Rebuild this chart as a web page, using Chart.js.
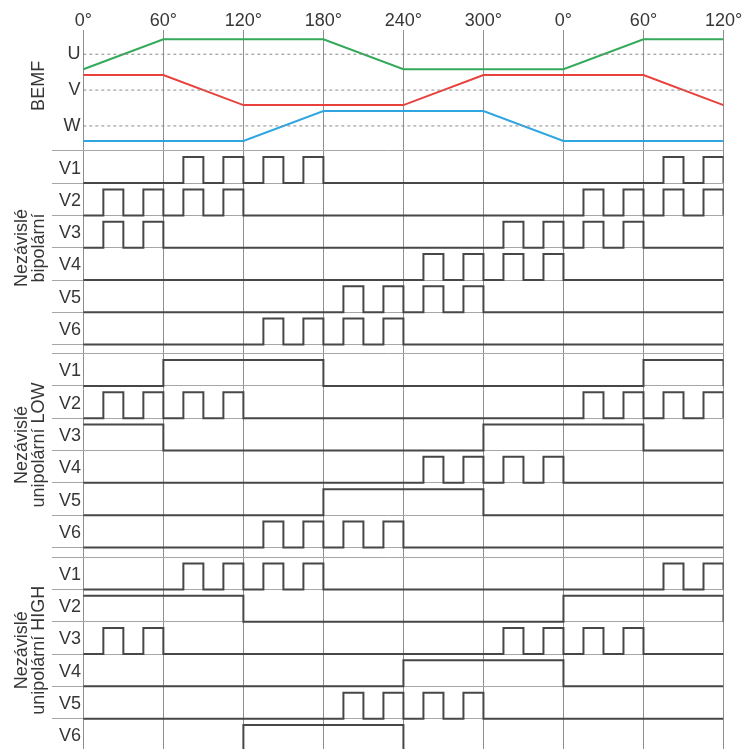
<!DOCTYPE html>
<html>
<head>
<meta charset="utf-8">
<script src="https://cdn.jsdelivr.net/npm/chart.js@4.4.1/dist/chart.umd.min.js"></script>
<style>
  html, body { margin: 0; padding: 0; background: #ffffff; }
  canvas { display: block; }
</style>
</head>
<body>
<canvas id="c" width="747" height="749"></canvas>
<script>
// ---- Electrical angle axis (one full turn plus 120°) ----
const tickAngles = [0, 60, 120, 180, 240, 300, 360, 420, 480];
const tickLabels = ['0°', '60°', '120°', '180°', '240°', '300°', '0°', '60°', '120°'];

// sample angles for the switching signals (15° steps)
const angles = [0, 15, 30, 45, 60, 75, 90, 105, 120, 135, 150, 165, 180, 195, 210, 225,
                240, 255, 270, 285, 300, 315, 330, 345, 360, 375, 390, 405, 420, 435, 450, 465, 480];

// ---- Back-EMF of the three phases (+1 = top of trapezoid, -1 = bottom) ----
const bemfAngles = [0, 60, 120, 180, 240, 300, 360, 420, 480];
const bemfU = [-1, 1, 1, 1, -1, -1, -1, 1, 1];
const bemfV = [1, 1, -1, -1, -1, 1, 1, 1, -1];
const bemfW = [-1, -1, -1, 1, 1, 1, -1, -1, -1];

// ---- Transistor gate signals, one value per 15° step (1 = on) ----
// independent bipolar switching
const bipV1 = [0,0,0,0, 0,1,0,1, 0,1,0,1, 0,0,0,0, 0,0,0,0, 0,0,0,0, 0,0,0,0, 0,1,0,1, 0];
const bipV2 = [0,1,0,1, 0,1,0,1, 0,0,0,0, 0,0,0,0, 0,0,0,0, 0,0,0,0, 0,1,0,1, 0,1,0,1, 0];
const bipV3 = [0,1,0,1, 0,0,0,0, 0,0,0,0, 0,0,0,0, 0,0,0,0, 0,1,0,1, 0,1,0,1, 0,0,0,0, 0];
const bipV4 = [0,0,0,0, 0,0,0,0, 0,0,0,0, 0,0,0,0, 0,1,0,1, 0,1,0,1, 0,0,0,0, 0,0,0,0, 0];
const bipV5 = [0,0,0,0, 0,0,0,0, 0,0,0,0, 0,1,0,1, 0,1,0,1, 0,0,0,0, 0,0,0,0, 0,0,0,0, 0];
const bipV6 = [0,0,0,0, 0,0,0,0, 0,1,0,1, 0,1,0,1, 0,0,0,0, 0,0,0,0, 0,0,0,0, 0,0,0,0, 0];

// independent unipolar, PWM on the low-side switches
const lowV1 = [0,0,0,0, 1,1,1,1, 1,1,1,1, 0,0,0,0, 0,0,0,0, 0,0,0,0, 0,0,0,0, 1,1,1,1, 0];
const lowV2 = [0,1,0,1, 0,1,0,1, 0,0,0,0, 0,0,0,0, 0,0,0,0, 0,0,0,0, 0,1,0,1, 0,1,0,1, 0];
const lowV3 = [1,1,1,1, 0,0,0,0, 0,0,0,0, 0,0,0,0, 0,0,0,0, 1,1,1,1, 1,1,1,1, 0,0,0,0, 0];
const lowV4 = [0,0,0,0, 0,0,0,0, 0,0,0,0, 0,0,0,0, 0,1,0,1, 0,1,0,1, 0,0,0,0, 0,0,0,0, 0];
const lowV5 = [0,0,0,0, 0,0,0,0, 0,0,0,0, 1,1,1,1, 1,1,1,1, 0,0,0,0, 0,0,0,0, 0,0,0,0, 0];
const lowV6 = [0,0,0,0, 0,0,0,0, 0,1,0,1, 0,1,0,1, 0,0,0,0, 0,0,0,0, 0,0,0,0, 0,0,0,0, 0];

// independent unipolar, PWM on the high-side switches
const highV1 = [0,0,0,0, 0,1,0,1, 0,1,0,1, 0,0,0,0, 0,0,0,0, 0,0,0,0, 0,0,0,0, 0,1,0,1, 0];
const highV2 = [1,1,1,1, 1,1,1,1, 0,0,0,0, 0,0,0,0, 0,0,0,0, 0,0,0,0, 1,1,1,1, 1,1,1,1, 0];
const highV3 = [0,1,0,1, 0,0,0,0, 0,0,0,0, 0,0,0,0, 0,0,0,0, 0,1,0,1, 0,1,0,1, 0,0,0,0, 0];
const highV4 = [0,0,0,0, 0,0,0,0, 0,0,0,0, 0,0,0,0, 1,1,1,1, 1,1,1,1, 0,0,0,0, 0,0,0,0, 0];
const highV5 = [0,0,0,0, 0,0,0,0, 0,0,0,0, 0,1,0,1, 0,1,0,1, 0,0,0,0, 0,0,0,0, 0,0,0,0, 0];
const highV6 = [0,0,0,0, 0,0,0,0, 1,1,1,1, 1,1,1,1, 0,0,0,0, 0,0,0,0, 0,0,0,0, 0,0,0,0, 0];

const rowNames = ['V1', 'V2', 'V3', 'V4', 'V5', 'V6'];
const sections = [
  { title: ['Nezávislé', 'bipolární'],       rows: [bipV1, bipV2, bipV3, bipV4, bipV5, bipV6] },
  { title: ['Nezávislé', 'unipolární LOW'],  rows: [lowV1, lowV2, lowV3, lowV4, lowV5, lowV6] },
  { title: ['Nezávislé', 'unipolární HIGH'], rows: [highV1, highV2, highV3, highV4, highV5, highV6] }
];

// ---- Layout (vertical axis is measured in lane heights, top = 0) ----
const layout = {
  yMax: 22.26,
  bemfCenter: { U: 0.75, V: 1.86, W: 2.97 },
  bemfAmp: 0.464,
  bemfTitleY: 1.73,
  sectionTop: [3.74, 10.02, 16.32],
  sectionTitleY: [6.75, 12.85, 19.2],
  pulse: 0.805,
  labelLift: 0.45
};

const TEXT = '#363636';
const FONT = '"Liberation Sans", Arial, Helvetica, sans-serif';
const SIGNAL = '#474747';

const datasets = [];

// dashed reference levels of the back-EMF
['U', 'V', 'W'].forEach(k => {
  datasets.push({
    data: [{ x: 0, y: layout.bemfCenter[k] }, { x: 480, y: layout.bemfCenter[k] }],
    borderColor: '#8a8a8a', borderWidth: 1, borderDash: [3, 3]
  });
});

// trapezoidal back-EMF waveforms
[[bemfU, 'U', '#35a95b'], [bemfV, 'V', '#e8413c'], [bemfW, 'W', '#2fa6e2']].forEach(([vals, k, col]) => {
  datasets.push({
    data: bemfAngles.map((a, i) => ({ x: a, y: layout.bemfCenter[k] - vals[i] * layout.bemfAmp })),
    borderColor: col, borderWidth: 2
  });
});

// gate signals as stepped traces
sections.forEach((sec, si) => {
  sec.rows.forEach((states, ri) => {
    const base = layout.sectionTop[si] + 1 + ri;
    datasets.push({
      data: angles.map((a, i) => ({ x: a, y: base - states[i] * layout.pulse })),
      borderColor: SIGNAL, borderWidth: 2, stepped: 'before'
    });
  });
});

// horizontal rule positions: section separators and each lane's baseline
const ruleLevels = [];
layout.sectionTop.forEach(t => {
  for (let r = 0; r <= 6; r++) {
    const v = t + r;
    if (v <= layout.yMax) ruleLevels.push(v);
  }
});

const textPlugin = {
  id: 'laneText',
  afterDraw(chart) {
    const ctx = chart.ctx;
    const ys = chart.scales.y;
    ctx.save();
    ctx.fillStyle = TEXT;
    ctx.font = '18px ' + FONT;

    // phase names next to the back-EMF levels
    ctx.textAlign = 'right';
    ctx.textBaseline = 'middle';
    ['U', 'V', 'W'].forEach(k => ctx.fillText(k, 80.5, ys.getPixelForValue(layout.bemfCenter[k])));

    // transistor names in every lane
    layout.sectionTop.forEach(t => {
      rowNames.forEach((n, ri) => {
        const base = t + 1 + ri;
        ctx.fillText(n, 81, ys.getPixelForValue(base - layout.labelLift));
      });
    });

    // rotated group titles
    ctx.textAlign = 'center';
    ctx.textBaseline = 'alphabetic';
    const vertical = (txt, x, y) => {
      ctx.save();
      ctx.translate(x, y);
      ctx.rotate(-Math.PI / 2);
      ctx.fillText(txt, 0, 0);
      ctx.restore();
    };
    vertical('BEMF', 43.5, ys.getPixelForValue(layout.bemfTitleY));
    sections.forEach((sec, si) => {
      const yc = ys.getPixelForValue(layout.sectionTitleY[si]);
      vertical(sec.title[0], 26.5, yc);
      vertical(sec.title[1], 43.5, yc);
    });
    ctx.restore();
  }
};

new Chart(document.getElementById('c'), {
  type: 'line',
  data: { datasets },
  options: {
    responsive: false,
    animation: false,
    devicePixelRatio: 1,
    layout: { padding: { left: 52, right: 23.5, top: 0, bottom: 0 } },
    elements: { point: { radius: 0 }, line: { tension: 0, borderCapStyle: 'butt' } },
    plugins: { legend: { display: false }, tooltip: { enabled: false } },
    scales: {
      x: {
        type: 'linear',
        position: 'top',
        min: -23.5,
        max: 480,
        afterBuildTicks: s => { s.ticks = tickAngles.map(v => ({ value: v })); },
        afterFit: s => { s.height = 30; },
        ticks: {
          autoSkip: false,
          maxRotation: 0,
          padding: 0,
          color: TEXT,
          font: { family: FONT, size: 18, lineHeight: 1 },
          callback: (v, i) => tickLabels[i]
        },
        grid: { color: '#8e8e8e', lineWidth: 1, drawTicks: false },
        border: { display: false }
      },
      y: {
        type: 'linear',
        reverse: true,
        min: 0,
        max: layout.yMax,
        afterBuildTicks: s => { s.ticks = ruleLevels.map(v => ({ value: v })); },
        afterFit: s => { s.width = 0; },
        ticks: { display: false },
        grid: { color: '#a6a6a6', lineWidth: 1, drawTicks: false },
        border: { display: false }
      }
    }
  },
  plugins: [textPlugin]
});
</script>
</body>
</html>
